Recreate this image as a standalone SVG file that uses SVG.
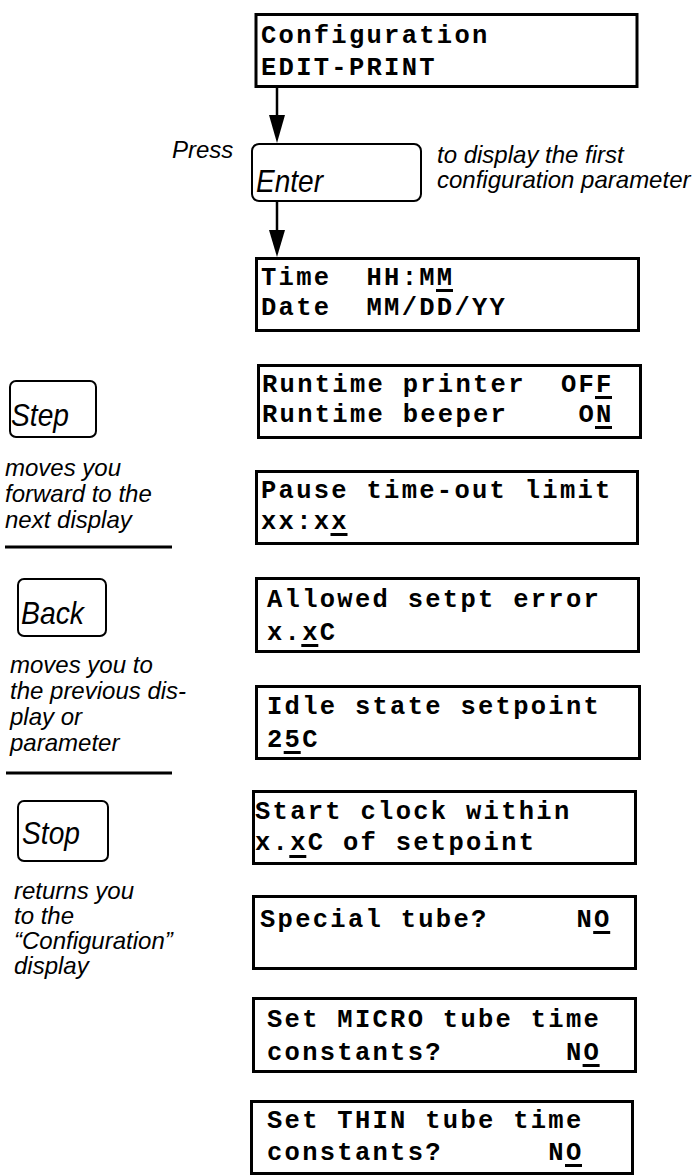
<svg xmlns="http://www.w3.org/2000/svg" width="699" height="1176" viewBox="0 0 699 1176">
<style>
.lcd{fill:#fff;stroke:#000;stroke-width:3}
.key{fill:#fff;stroke:#000;stroke-width:2}
.mono{font-family:"Liberation Mono","Courier New",monospace;font-weight:bold;font-size:25.5px;letter-spacing:2.28px;fill:#000;white-space:pre}
.klab{font-family:"Liberation Sans",Arial,sans-serif;font-style:italic;font-size:30.5px;fill:#000}
.desc{font-family:"Liberation Sans",Arial,sans-serif;font-style:italic;font-size:24px;fill:#000}
.ul{fill:#000}
.rule{stroke:#000;stroke-width:3}
.conn{stroke:#000;stroke-width:2.5;fill:none}
</style>
<rect width="699" height="1176" fill="#fff"/>

<g id="connectors">
  <rect class="ul" x="261" y="79.5" width="17" height="3"/>
  <line class="conn" x1="277" y1="80" x2="277" y2="118"/>
  <polygon points="269,115 285,115 277,143" fill="#000"/>
  <line class="conn" x1="277" y1="202" x2="277" y2="232"/>
  <polygon points="269,230 285,230 277,257" fill="#000"/>
</g>

<g id="n-config">
  <rect class="lcd" x="256" y="14.5" width="381" height="72"/>
  <text class="mono" x="261" y="43">Configuration</text>
  <text class="mono" x="261" y="75">EDIT-PRINT</text>
</g>

<g id="n-enter">
  <text class="desc" x="172" y="158">Press</text>
  <rect class="key" x="252" y="144" width="169" height="57" rx="7"/>
  <text class="klab" x="256" y="192" textLength="67" lengthAdjust="spacingAndGlyphs">Enter</text>
  <text class="desc" x="437" y="163">to display the first</text>
  <text class="desc" x="437" y="188">configuration parameter</text>
</g>

<g id="n-time">
  <rect class="lcd" x="256.5" y="258.5" width="382" height="72"/>
  <text class="mono" x="261" y="285">Time  HH:MM</text>
  <text class="mono" x="261" y="315">Date  MM/DD/YY</text>
  <rect class="ul" x="436" y="289" width="17" height="3"/>
</g>

<g id="n-runtime">
  <rect class="lcd" x="258.5" y="365.5" width="382" height="72"/>
  <text class="mono" x="262" y="392">Runtime printer  OFF</text>
  <text class="mono" x="262" y="422">Runtime beeper    ON</text>
  <rect class="ul" x="595" y="396" width="17" height="3"/>
  <rect class="ul" x="595" y="426" width="17" height="3"/>
</g>

<g id="n-step">
  <rect class="key" x="10" y="381" width="86" height="56" rx="6"/>
  <text class="klab" x="11" y="426" textLength="58" lengthAdjust="spacingAndGlyphs">Step</text>
  <text class="desc" x="5" y="476">moves you</text>
  <text class="desc" x="5" y="502">forward to the</text>
  <text class="desc" x="5" y="528">next display</text>
  <line class="rule" x1="5" y1="547" x2="172" y2="547"/>
</g>

<g id="n-pause">
  <rect class="lcd" x="256.5" y="471.5" width="381" height="72"/>
  <text class="mono" x="261" y="498">Pause time-out limit</text>
  <text class="mono" x="261" y="529">xx:xx</text>
  <rect class="ul" x="330.5" y="533" width="17" height="3"/>
</g>

<g id="n-back">
  <rect class="key" x="18" y="579" width="88" height="57" rx="6"/>
  <text class="klab" x="21" y="624" textLength="63" lengthAdjust="spacingAndGlyphs">Back</text>
  <text class="desc" x="10" y="673">moves you to</text>
  <text class="desc" x="10" y="699">the previous dis-</text>
  <text class="desc" x="10" y="725">play or</text>
  <text class="desc" x="10" y="751">parameter</text>
  <line class="rule" x1="6" y1="773" x2="172" y2="773"/>
</g>

<g id="n-allowed">
  <rect class="lcd" x="256.5" y="578.5" width="382" height="73"/>
  <text class="mono" x="267" y="607">Allowed setpt error</text>
  <text class="mono" x="267" y="640">x.xC</text>
  <rect class="ul" x="301.3" y="644" width="17" height="3"/>
</g>

<g id="n-idle">
  <rect class="lcd" x="256.5" y="686.5" width="383" height="72"/>
  <text class="mono" x="267" y="714">Idle state setpoint</text>
  <text class="mono" x="267" y="747">25C</text>
  <rect class="ul" x="283.7" y="751" width="17" height="3"/>
</g>

<g id="n-stop">
  <rect class="key" x="18" y="801" width="90" height="60" rx="6"/>
  <text class="klab" x="22" y="844" textLength="58" lengthAdjust="spacingAndGlyphs">Stop</text>
  <text class="desc" x="14" y="899">returns you</text>
  <text class="desc" x="14" y="924">to the</text>
  <text class="desc" x="14" y="949">“Configuration”</text>
  <text class="desc" x="14" y="974">display</text>
</g>

<g id="n-start">
  <rect class="lcd" x="253.5" y="791.5" width="382" height="72"/>
  <text class="mono" x="255" y="819">Start clock within</text>
  <text class="mono" x="255" y="850">x.xC of setpoint</text>
  <rect class="ul" x="289.3" y="855" width="17" height="3"/>
</g>

<g id="n-special">
  <rect class="lcd" x="253.5" y="896.5" width="382" height="72"/>
  <text class="mono" x="260" y="927">Special tube?     NO</text>
  <rect class="ul" x="593.2" y="931" width="17" height="3"/>
</g>

<g id="n-micro">
  <rect class="lcd" x="253.5" y="998.5" width="382" height="73"/>
  <text class="mono" x="267" y="1027">Set MICRO tube time</text>
  <text class="mono" x="267" y="1060">constants?       NO</text>
  <rect class="ul" x="582.6" y="1064" width="17" height="3"/>
</g>

<g id="n-thin">
  <rect class="lcd" x="251.5" y="1101.5" width="381" height="72"/>
  <text class="mono" x="267" y="1128">Set THIN tube time</text>
  <text class="mono" x="267" y="1160">constants?      NO</text>
  <rect class="ul" x="565" y="1164" width="17" height="3"/>
</g>
</svg>
